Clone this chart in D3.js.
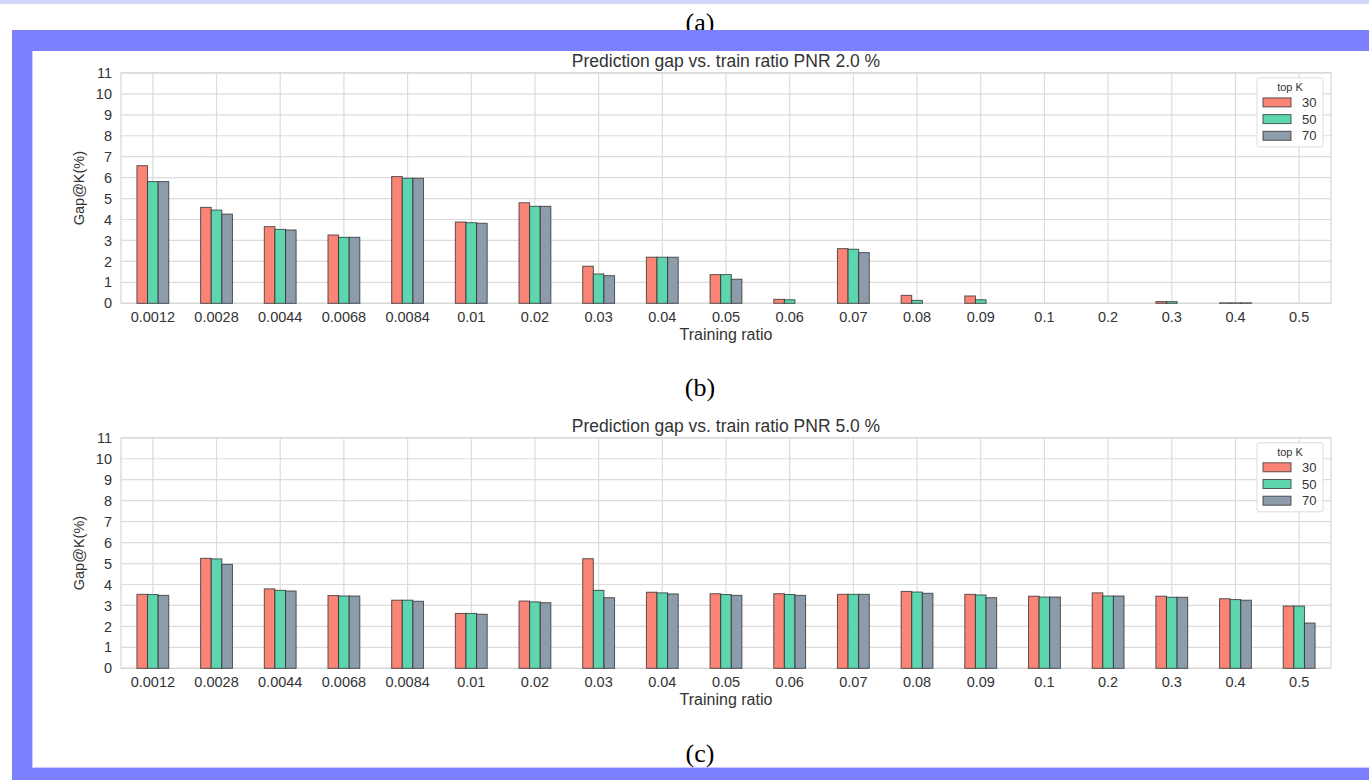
<!DOCTYPE html>
<html>
<head>
<meta charset="utf-8">
<script src="https://cdn.jsdelivr.net/npm/d3@7"></script>
<style>
  html, body { margin: 0; padding: 0; background: #ffffff; }
  svg { display: block; }
</style>
</head>
<body>
<svg id="chart" width="1369" height="780"></svg>
<script>
// ---------- data ----------
const categories = ["0.0012","0.0028","0.0044","0.0068","0.0084","0.01","0.02","0.03","0.04","0.05","0.06","0.07","0.08","0.09","0.1","0.2","0.3","0.4","0.5"];
const seriesKeys = ["30","50","70"];
const yTickValues = [0,1,2,3,4,5,6,7,8,9,10,11];

// PNR 2.0 %
const pnr2_k30 = [6.57,4.58,3.66,3.26,6.05,3.88,4.80,1.77,2.20,1.37,0.19,2.61,0.38,0.35,0,0,0.08,0.02,0];
const pnr2_k50 = [5.81,4.45,3.53,3.15,5.97,3.85,4.63,1.40,2.20,1.37,0.17,2.58,0.14,0.17,0,0,0.08,0.02,0];
const pnr2_k70 = [5.81,4.26,3.50,3.15,5.97,3.82,4.63,1.32,2.20,1.15,0,2.42,0,0,0,0,0,0.02,0];

// PNR 5.0 %
const pnr5_k30 = [3.53,5.25,3.79,3.47,3.25,2.62,3.21,5.23,3.63,3.56,3.56,3.53,3.67,3.53,3.44,3.60,3.44,3.32,2.97];
const pnr5_k50 = [3.52,5.22,3.72,3.45,3.25,2.62,3.17,3.72,3.60,3.52,3.52,3.53,3.64,3.50,3.40,3.45,3.39,3.28,2.97];
const pnr5_k70 = [3.48,4.96,3.69,3.45,3.20,2.58,3.13,3.37,3.55,3.48,3.48,3.53,3.58,3.37,3.40,3.45,3.39,3.25,2.16];

const titles = ["Prediction gap vs. train ratio PNR 2.0 %", "Prediction gap vs. train ratio PNR 5.0 %"];
const panelLabels = ["(a)", "(b)", "(c)"];
const legendTitle = "top K";
const xLabel = "Training ratio";
const yLabel = "Gap@K(%)";

// ---------- drawing ----------
const svg = d3.select("#chart");
const W = 1369, H = 780;
const sans = "'Liberation Sans', Arial, Helvetica, sans-serif";
const serif = "'Liberation Serif', 'Times New Roman', serif";
const colors = d3.scaleOrdinal().domain(seriesKeys).range(["#fa8577", "#5dd5ae", "#8c9cab"]);

// background
svg.append("rect").attr("width", W).attr("height", H).attr("fill", "#ffffff");
svg.append("rect").attr("x", 0).attr("y", 0).attr("width", W).attr("height", 4).attr("fill", "#d3d6fb");

// (a) label, partially clipped by the frame band
svg.append("text").attr("x", 700).attr("y", 31).attr("text-anchor", "middle")
  .attr("font-family", serif).attr("font-size", 26).attr("fill", "#000").text(panelLabels[0]);

// blue frame
const frameColor = "#7b80ff";
svg.append("rect").attr("x", 12).attr("y", 30).attr("width", W - 12).attr("height", 21).attr("fill", frameColor);
svg.append("rect").attr("x", 12).attr("y", 30).attr("width", 20).attr("height", H - 30).attr("fill", frameColor);
svg.append("rect").attr("x", 12).attr("y", 768).attr("width", W - 12).attr("height", 12).attr("fill", frameColor);
svg.append("line").attr("x1", 32.5).attr("x2", 32.5).attr("y1", 51).attr("y2", 768).attr("stroke", "#c9cbff").attr("stroke-width", 1);
svg.append("line").attr("x1", 32).attr("x2", W).attr("y1", 767.5).attr("y2", 767.5).attr("stroke", "#c9cbff").attr("stroke-width", 1);

function drawPanel(cfg) {
  const left = 121, right = 1331;
  const top = cfg.top, bottom = cfg.bottom;
  const g = svg.append("g");

  const x = d3.scaleBand().domain(categories).range([left, right]).paddingInner(0).paddingOuter(0);
  const groupW = x.bandwidth() * 0.5;
  const xs = d3.scaleBand().domain(seriesKeys).range([0, groupW]).padding(0);
  const y = d3.scaleLinear().domain([0, 11]).range([bottom, top]);

  // grid
  g.append("g").selectAll("line.h").data(yTickValues).join("line")
    .attr("x1", left).attr("x2", right)
    .attr("y1", d => y(d)).attr("y2", d => y(d))
    .attr("stroke", "#dcdcdc").attr("stroke-width", 1.2);
  g.append("g").selectAll("line.v").data(categories).join("line")
    .attr("x1", d => x(d) + x.bandwidth() / 2).attr("x2", d => x(d) + x.bandwidth() / 2)
    .attr("y1", top).attr("y2", bottom)
    .attr("stroke", "#dcdcdc").attr("stroke-width", 1.2);

  // frame
  g.append("rect").attr("x", left).attr("y", top).attr("width", right - left).attr("height", bottom - top)
    .attr("fill", "none").attr("stroke", "#d6d6d6").attr("stroke-width", 1.2);

  // bars
  const rows = [];
  categories.forEach((c, i) => {
    seriesKeys.forEach((k, j) => rows.push({ c, k, v: cfg.series[j][i] }));
  });
  g.append("g").selectAll("rect").data(rows.filter(d => d.v > 0)).join("rect")
    .attr("x", d => x(d.c) + x.bandwidth() / 2 - groupW / 2 + xs(d.k))
    .attr("width", xs.bandwidth())
    .attr("y", d => y(d.v))
    .attr("height", d => y(0) - y(d.v))
    .attr("fill", d => colors(d.k))
    .attr("stroke", "#2a2a2a").attr("stroke-opacity", 0.75).attr("stroke-width", 1);

  // axes
  const yAxis = g.append("g").attr("transform", `translate(${left},0)`)
    .call(d3.axisLeft(y).tickValues(yTickValues).tickSize(0).tickPadding(9).tickFormat(d3.format("d")));
  yAxis.select(".domain").remove();
  yAxis.selectAll("text").attr("font-family", sans).attr("font-size", 14.5).attr("fill", "#333");

  const xAxis = g.append("g").attr("transform", `translate(0,${bottom})`)
    .call(d3.axisBottom(x).tickSize(0).tickPadding(8));
  xAxis.select(".domain").remove();
  xAxis.selectAll("text").attr("font-family", sans).attr("font-size", 14.5).attr("fill", "#333");

  // labels
  g.append("text").attr("x", (left + right) / 2).attr("y", cfg.top - 6).attr("text-anchor", "middle")
    .attr("font-family", sans).attr("font-size", 17.5).attr("fill", "#333").text(cfg.title);
  g.append("text").attr("x", (left + right) / 2).attr("y", bottom + 37).attr("text-anchor", "middle")
    .attr("font-family", sans).attr("font-size", 16).attr("fill", "#333").text(xLabel);
  g.append("text").attr("transform", `translate(84,${(top + bottom) / 2}) rotate(-90)`).attr("text-anchor", "middle")
    .attr("font-family", sans).attr("font-size", 14.5).attr("fill", "#333").text(yLabel);

  // legend
  const lx = 1257, ly = top + 5;
  const lg = g.append("g");
  lg.append("rect").attr("x", lx).attr("y", ly).attr("width", 66).attr("height", 69).attr("rx", 2)
    .attr("fill", "#ffffff").attr("fill-opacity", 0.9).attr("stroke", "#dddddd").attr("stroke-width", 1);
  lg.append("text").attr("x", lx + 33).attr("y", ly + 13).attr("text-anchor", "middle")
    .attr("font-family", sans).attr("font-size", 11).attr("fill", "#333").text(legendTitle);
  seriesKeys.forEach((k, j) => {
    const cy = ly + 24.5 + j * 16.7;
    lg.append("rect").attr("x", lx + 6).attr("y", cy - 4.5).attr("width", 28).attr("height", 9)
      .attr("fill", colors(k)).attr("stroke", "#2a2a2a").attr("stroke-opacity", 0.75).attr("stroke-width", 1);
    lg.append("text").attr("x", lx + 45).attr("y", cy + 4.5)
      .attr("font-family", sans).attr("font-size", 13).attr("fill", "#333").text(k);
  });
}

drawPanel({ top: 72.9, bottom: 303.3, title: titles[0], series: [pnr2_k30, pnr2_k50, pnr2_k70] });
drawPanel({ top: 437.8, bottom: 668.3, title: titles[1], series: [pnr5_k30, pnr5_k50, pnr5_k70] });

svg.append("text").attr("x", 700).attr("y", 396).attr("text-anchor", "middle")
  .attr("font-family", serif).attr("font-size", 26).attr("fill", "#000").text(panelLabels[1]);
svg.append("text").attr("x", 700).attr("y", 762).attr("text-anchor", "middle")
  .attr("font-family", serif).attr("font-size", 26).attr("fill", "#000").text(panelLabels[2]);
</script>
</body>
</html>
